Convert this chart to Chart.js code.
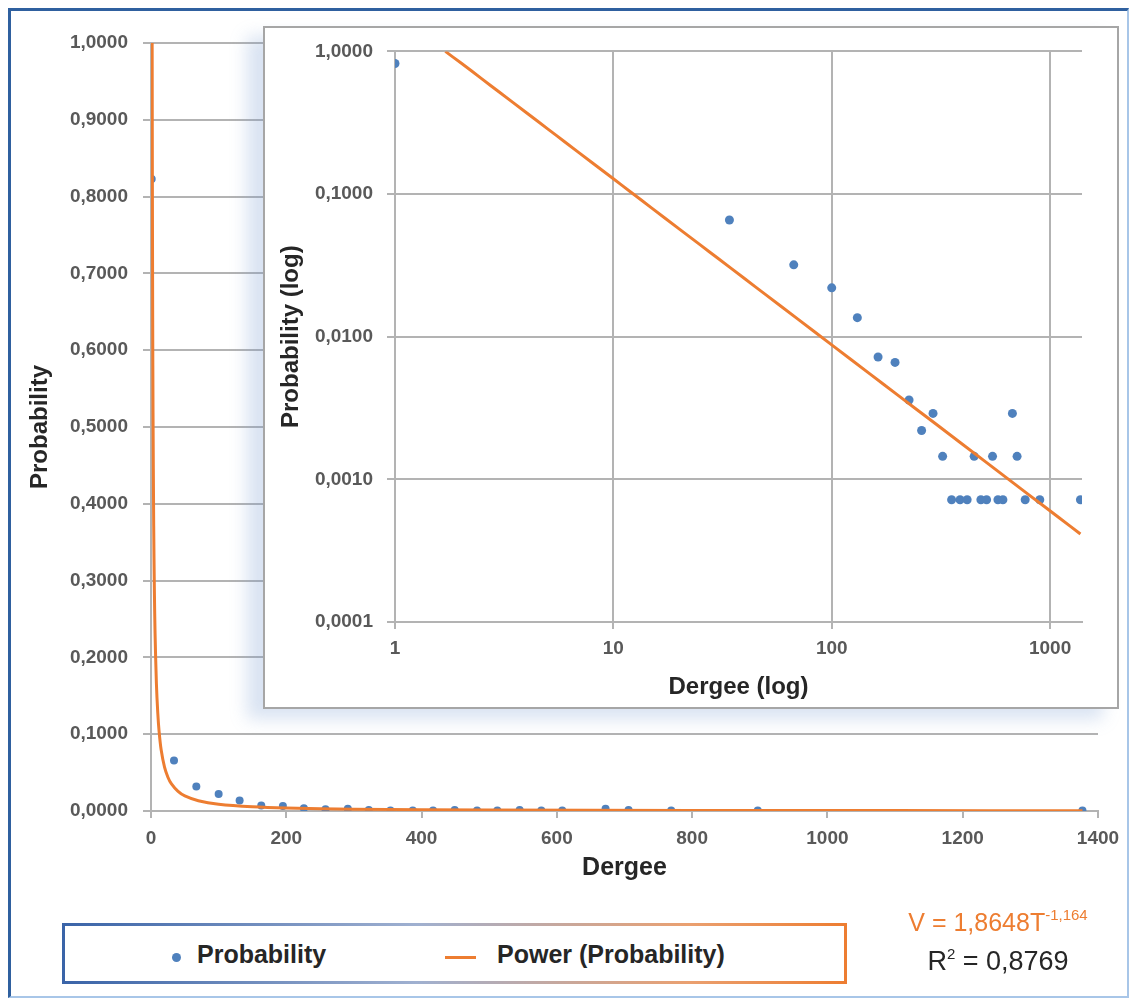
<!DOCTYPE html>
<html>
<head>
<meta charset="utf-8">
<script src="https://cdn.jsdelivr.net/npm/chart.js@4.4.1/dist/chart.umd.min.js"></script>
<style>
  body { margin: 0; background: #fff; font-family: 'Liberation Sans', Arial, sans-serif; }
  #page { position: relative; width: 1131px; height: 999px; overflow: hidden; }
  #frame {
    position: absolute; left: 8px; top: 8px; width: 1121px; height: 990px; box-sizing: border-box;
    border-left: 3px solid #2f609f; border-top: 3px solid #2f609f;
    border-right: 2px solid #a8c6e8; border-bottom: 2px solid #a8c6e8;
  }
  #mainChart { position: absolute; left: 0; top: 0; }
  #insetBox {
    position: absolute; left: 263px; top: 26px; width: 856px; height: 683px; box-sizing: border-box;
    border: 2px solid #a6a6a6; background: #fff;
    box-shadow: -16px 10px 16px rgba(120, 155, 210, 0.28);
  }
  #insetChart { position: absolute; left: 263px; top: 26px; }
  #legend {
    position: absolute; left: 62px; top: 923px; width: 785px; height: 61px; box-sizing: border-box;
    border: 3px solid; border-image: linear-gradient(90deg, #3a64a8, #9fb0d0 45%, #eaa070 80%, #ed7d31) 1;
    background: #fff;
  }
  .lg { position: absolute; top: 14px; font-size: 25px; font-weight: bold; color: #262626; }
  #dot { position: absolute; left: 107px; top: 27px; width: 9px; height: 9px; border-radius: 50%; background: #4f81bd; }
  #dash { position: absolute; left: 380px; top: 30px; width: 31px; height: 3px; background: #ed7d31; }
  #eq { position: absolute; left: 870px; top: 906px; width: 256px; text-align: center; color: #ed7d31; font-size: 25px; }
  #r2 { position: absolute; left: 870px; top: 945px; width: 256px; text-align: center; color: #262626; font-size: 27px; }
  sup { font-size: 15px; vertical-align: 11px; }
</style>
</head>
<body>
<div id="page">
  <canvas id="mainChart" width="1131" height="900"></canvas>
  <div id="insetBox"></div>
  <canvas id="insetChart" width="856" height="683"></canvas>
  <div id="frame"></div>
  <div id="legend">
    <div id="dot"></div>
    <div class="lg" style="left:132px">Probability</div>
    <div id="dash"></div>
    <div class="lg" style="left:432px">Power (Probability)</div>
  </div>
  <div id="eq">V = 1,8648T<sup>-1,164</sup></div>
  <div id="r2">R<sup>2</sup> = 0,8769</div>
</div>
<script>
// degree distribution
const degree = [1, 34, 67, 100, 131, 163, 195, 226, 258, 291, 322, 354, 387, 417, 449, 482, 512, 545, 577, 608, 672, 706, 769, 897, 1377];
const probability = [0.823, 0.0658, 0.0319, 0.0220, 0.0136, 0.0072, 0.0066, 0.0036, 0.0022, 0.0029, 0.00145, 0.00072, 0.00072, 0.00072, 0.00145, 0.00072, 0.00072, 0.00145, 0.00072, 0.00072, 0.0029, 0.00145, 0.00072, 0.00072, 0.00072];

// power trend line, as drawn
const trendDegree = [1.7, 2, 2.5, 3, 4, 5, 6, 8, 10, 12, 15, 20, 25, 30, 40, 50, 70, 100, 150, 200, 300, 500, 800, 1100, 1377];
const trendProb = [1.0, 0.832, 0.642, 0.519, 0.3715, 0.2865, 0.2316, 0.1657, 0.1279, 0.1034, 0.0797, 0.057, 0.044, 0.0356, 0.02546, 0.01964, 0.01327, 0.00876, 0.005467, 0.003912, 0.002441, 0.001347, 0.000779, 0.000538, 0.000414];

const mainXTicks = [0, 200, 400, 600, 800, 1000, 1200, 1400];
const mainYTicks = [0, 0.1, 0.2, 0.3, 0.4, 0.5, 0.6, 0.7, 0.8, 0.9, 1.0];
const logXTicks = [1, 10, 100, 1000];
const logYTicks = [0.0001, 0.001, 0.01, 0.1, 1];

const BLUE = '#4f81bd';
const ORANGE = '#ed7d31';
const GRID = '#b3b3b3';
const TICK_FONT = { family: "'Liberation Sans', Arial, sans-serif", size: 19, weight: 'bold' };
const TITLE_FONT = { family: "'Liberation Sans', Arial, sans-serif", size: 24, weight: 'bold' };

const fmt4 = v => Number(v).toFixed(4).replace('.', ',');
const plain = v => String(v);
const pts = (xs, ys) => xs.map((x, i) => ({ x: x, y: ys[i] }));

function datasets(r) {
  return [
    {
      label: 'Power (Probability)', data: pts(trendDegree, trendProb), type: 'line',
      borderColor: ORANGE, borderWidth: 3, pointRadius: 0, fill: false, order: 0, tension: 0.3
    },
    {
      label: 'Probability', data: pts(degree, probability), type: 'scatter',
      backgroundColor: BLUE, borderColor: BLUE, pointRadius: r, pointBorderWidth: 0, order: 1
    }
  ];
}

const common = {
  responsive: false,
  animation: false,
  plugins: { legend: { display: false }, tooltip: { enabled: false } }
};

new Chart(document.getElementById('mainChart'), {
  type: 'scatter',
  data: { datasets: datasets(4) },
  options: {
    ...common,
    layout: { padding: { top: 43, right: 33, left: 0, bottom: 0 } },
    scales: {
      x: {
        type: 'linear', min: 0, max: 1400,
        afterBuildTicks: s => { s.ticks = mainXTicks.map(v => ({ value: v })); },
        afterFit: s => { s.height = 89; },
        grid: { drawOnChartArea: false, color: GRID, lineWidth: 2, tickLength: 7 },
        border: { color: GRID, width: 2 },
        ticks: { color: '#595959', font: TICK_FONT, padding: 9, maxRotation: 0, callback: plain },
        title: { display: true, text: 'Dergee', color: '#262626', font: { ...TITLE_FONT, size: 25 }, padding: { bottom: 17 } }
      },
      y: {
        type: 'linear', min: 0, max: 1,
        afterBuildTicks: s => { s.ticks = mainYTicks.map(v => ({ value: v })); },
        afterFit: s => { s.width = 151; },
        grid: { color: GRID, lineWidth: 2, tickLength: 8 },
        border: { color: GRID, width: 2 },
        ticks: { color: '#595959', font: TICK_FONT, padding: 15, callback: fmt4 },
        title: { display: true, text: 'Probability', color: '#262626', font: TITLE_FONT, padding: { top: 26 } }
      }
    }
  }
});

new Chart(document.getElementById('insetChart'), {
  type: 'scatter',
  data: { datasets: datasets(4.5) },
  options: {
    ...common,
    layout: { padding: { top: 25, right: 37, left: 0, bottom: 0 } },
    scales: {
      x: {
        type: 'logarithmic', min: 1, max: 1400,
        afterBuildTicks: s => { s.ticks = logXTicks.map(v => ({ value: v })); },
        afterFit: s => { s.height = 87; },
        grid: { color: GRID, lineWidth: 2, tickLength: 7 },
        border: { color: GRID, width: 2 },
        ticks: { color: '#595959', font: TICK_FONT, padding: 8, maxRotation: 0, callback: plain },
        title: { display: true, text: 'Dergee (log)', color: '#262626', font: TITLE_FONT, padding: { bottom: 7 } }
      },
      y: {
        type: 'logarithmic', min: 0.0001, max: 1,
        afterBuildTicks: s => { s.ticks = logYTicks.map(v => ({ value: v })); },
        afterFit: s => { s.width = 132; },
        grid: { color: GRID, lineWidth: 2, tickLength: 8 },
        border: { color: GRID, width: 2 },
        ticks: { color: '#595959', font: TICK_FONT, padding: 14, callback: fmt4 },
        title: { display: true, text: 'Probability (log)', color: '#262626', font: TITLE_FONT, padding: { top: 14 } }
      }
    }
  }
});
</script>
</body>
</html>
